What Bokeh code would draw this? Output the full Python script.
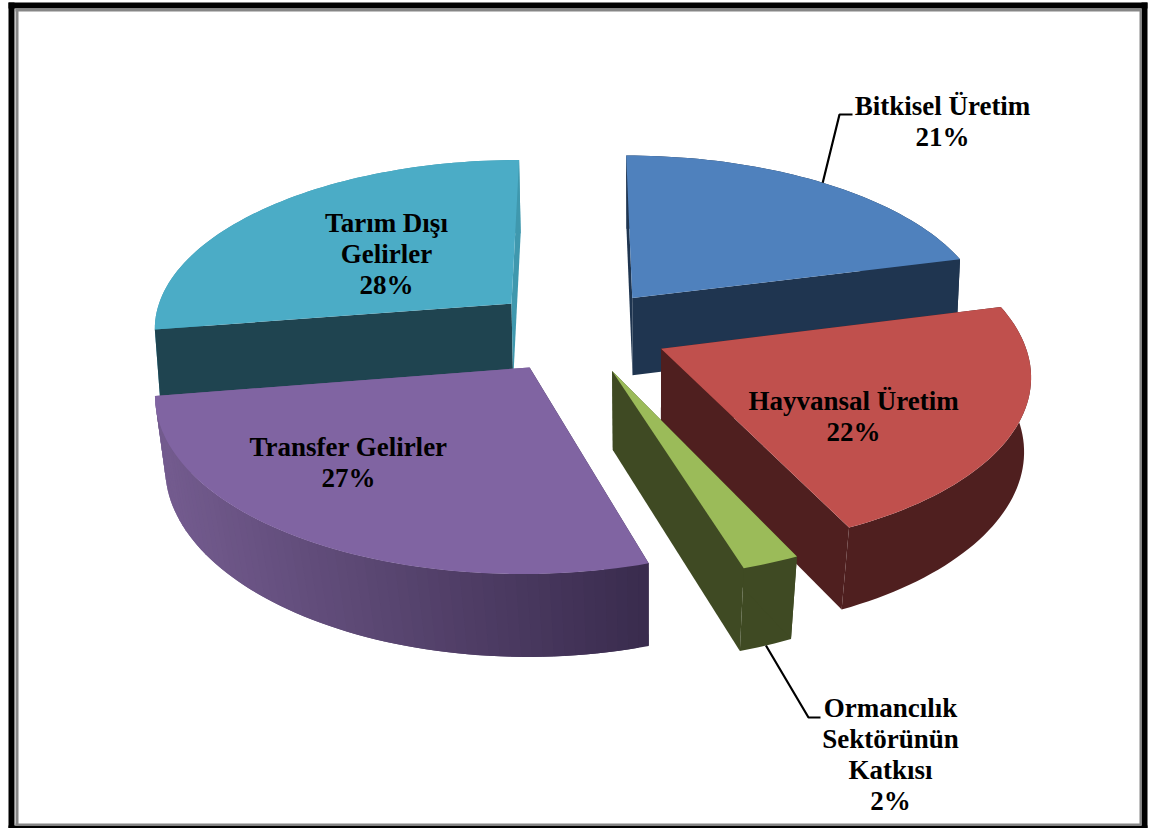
import math
from bokeh.plotting import figure
from bokeh.models import ColumnDataSource
from bokeh.core.properties import value
from bokeh.embed import file_html
from bokeh.resources import INLINE

# ---- data ----
categories = ["Bitkisel Üretim", "Hayvansal Üretim", "Ormancılık Sektörünün Katkısı", "Transfer Gelirler", "Tarım Dışı Gelirler"]
label_lines = [["Bitkisel Üretim"], ["Hayvansal Üretim"], ["Ormancılık", "Sektörünün", "Katkısı"], ["Transfer Gelirler"], ["Tarım Dışı", "Gelirler"]]
shares = [21.0, 22.0, 2.2, 27.3, 27.5]

# ---- styles ----
top_colors = ["#4F81BD", "#C0504D", "#9BBB59", "#8064A2", "#4BACC6"]
start_face = ["#1F3550", "#4F1F1F", "#3F4A23", "#3A2C4E", "#1F4450"]
end_face = ["#1F3550", "#4F1F1F", "#3F4A23", "#735B8E", "#3F98AE"]
wall_colors = ["#1F3550", "#4F1F1F", "#3F4A23", None, "#3F98AE"]
draw_order = [4, 0, 1, 3, 2]
label_pos = [(942, 105), (853, 400), (890, 707), (348, 446), (386, 222)]
line_gap = 31
FONT_PX = "27px"

# projection of the tilted pie
CX, CY, AX, AY, K, EXPLODE = 578, 330, 360, 169, 0.131, 0.25
VX, DEPTH = 650, 78


def project(X, Y, down=False):
    s = 1 / (1 + K * Y)
    sx = CX + X * AX * s
    sy = CY - Y * AY * s
    if down:
        sx -= (sx - VX) * (0.012 + 0.025 * max(0, -Y))
        sy += DEPTH - 4 * Y
    return sx, sy


def lerp_hex(a, b, t):
    t = max(0, min(1, t))
    ca = [int(a[i:i + 2], 16) for i in (1, 3, 5)]
    cb = [int(b[i:i + 2], 16) for i in (1, 3, 5)]
    return "#%02x%02x%02x" % tuple(round(u + (v - u) * t) for u, v in zip(ca, cb))


total = sum(shares)
bounds = [0]
for v in shares:
    bounds.append(bounds[-1] + v / total * 2 * math.pi)


def slice_geom(i):
    a0, a1 = bounds[i], bounds[i + 1]
    mid = (a0 + a1) / 2
    ox, oy = EXPLODE * math.sin(mid), EXPLODE * math.cos(mid)
    return a0, a1, mid, ox, oy


xs, ys, cols = [], [], []


def add(poly, col):
    xs.append([q[0] for q in poly])
    ys.append([q[1] for q in poly])
    cols.append(col)


for i in draw_order:
    a0, a1, mid, ox, oy = slice_geom(i)
    n = max(6, int((a1 - a0) / (2 * math.pi) * 240))
    angs = [a0 + (a1 - a0) * j / n for j in range(n + 1)]
    rim = [(ox + math.sin(a), oy + math.cos(a)) for a in angs]
    apex = (ox, oy)
    faces = [([project(*apex), project(*rim[0]), project(*rim[0], True), project(*apex, True)], start_face[i]),
             ([project(*apex), project(*rim[-1]), project(*rim[-1], True), project(*apex, True)], end_face[i])]
    if wall_colors[i] is not None:
        # outer wall, then the radial faces over it
        add([project(*r) for r in rim] + [project(*r, True) for r in reversed(rim)], wall_colors[i])
        for poly, col in faces:
            add(poly, col)
    else:
        # shaded wall: the radial faces stay behind it
        for poly, col in faces:
            add(poly, col)
        for j in range(n):
            k1 = min(j + 2, n)
            p0, p1 = rim[j], rim[k1]
            poly = [project(*p0), project(*p1), project(*p1, True), project(*p0, True)]
            t = (project(*p0)[0] - 165) / (647 - 165)
            add(poly, lerp_hex("#735B8E", "#3A2C4E", t))
    # top
    add([project(*apex)] + [project(*r) for r in rim], top_colors[i])

p = figure(width=1156, height=828, x_range=(0, 1156), y_range=(828, 0),
           x_axis_type=None, y_axis_type=None, toolbar_location=None,
           output_backend="svg", min_border=0, outline_line_color=None,
           background_fill_color="white", border_fill_color="white")
p.grid.visible = False

# frame
frame_black = [(8, 2, 1147, 8), (8, 2, 14, 828), (1141, 2, 1147, 828), (8, 825, 1147, 828)]
frame_gray = [(15, 8, 1141, 11), (15, 8, 18, 825), (1139, 8, 1141, 825), (15, 823, 1141, 825)]
for rects, col in ((frame_black, "#000000"), (frame_gray, "#868686")):
    p.quad(left=[r[0] for r in rects], top=[r[1] for r in rects], right=[r[2] for r in rects],
           bottom=[r[3] for r in rects], fill_color=col, line_color=None)

p.patches(xs="x", ys="y", fill_color="c", line_color=None,
          source=ColumnDataSource(dict(x=xs, y=ys, c=cols)))


# leaders start at the middle of their slice's rim
def rim_mid(i, down=False):
    a0, a1, mid, ox, oy = slice_geom(i)
    return project(ox + math.sin(mid), oy + math.cos(mid), down)


leader_bends = {0: [(839, 114), (852, 114)], 2: [(808, 717), (820, 717)]}
for i, down in ((0, False), (2, True)):
    start = rim_mid(i, down)
    pts = [start] + leader_bends[i]
    p.line([q[0] for q in pts], [q[1] for q in pts], line_color="#000000", line_width=2.2)

# labels
tx, ty, tt = [], [], []
for i, lines in enumerate(label_lines):
    x0, y0 = label_pos[i]
    for j, t in enumerate(lines + [f"{round(shares[i])}%"]):
        tx.append(x0)
        ty.append(y0 + j * line_gap)
        tt.append(t)
p.text(x="x", y="y", text="t", source=ColumnDataSource(dict(x=tx, y=ty, t=tt)),
       text_font=value("Liberation Serif"), text_font_style="bold", text_font_size=FONT_PX,
       text_align="center", text_baseline="middle", text_color="#000000")

open("out.html", "w").write(file_html(p, INLINE))
